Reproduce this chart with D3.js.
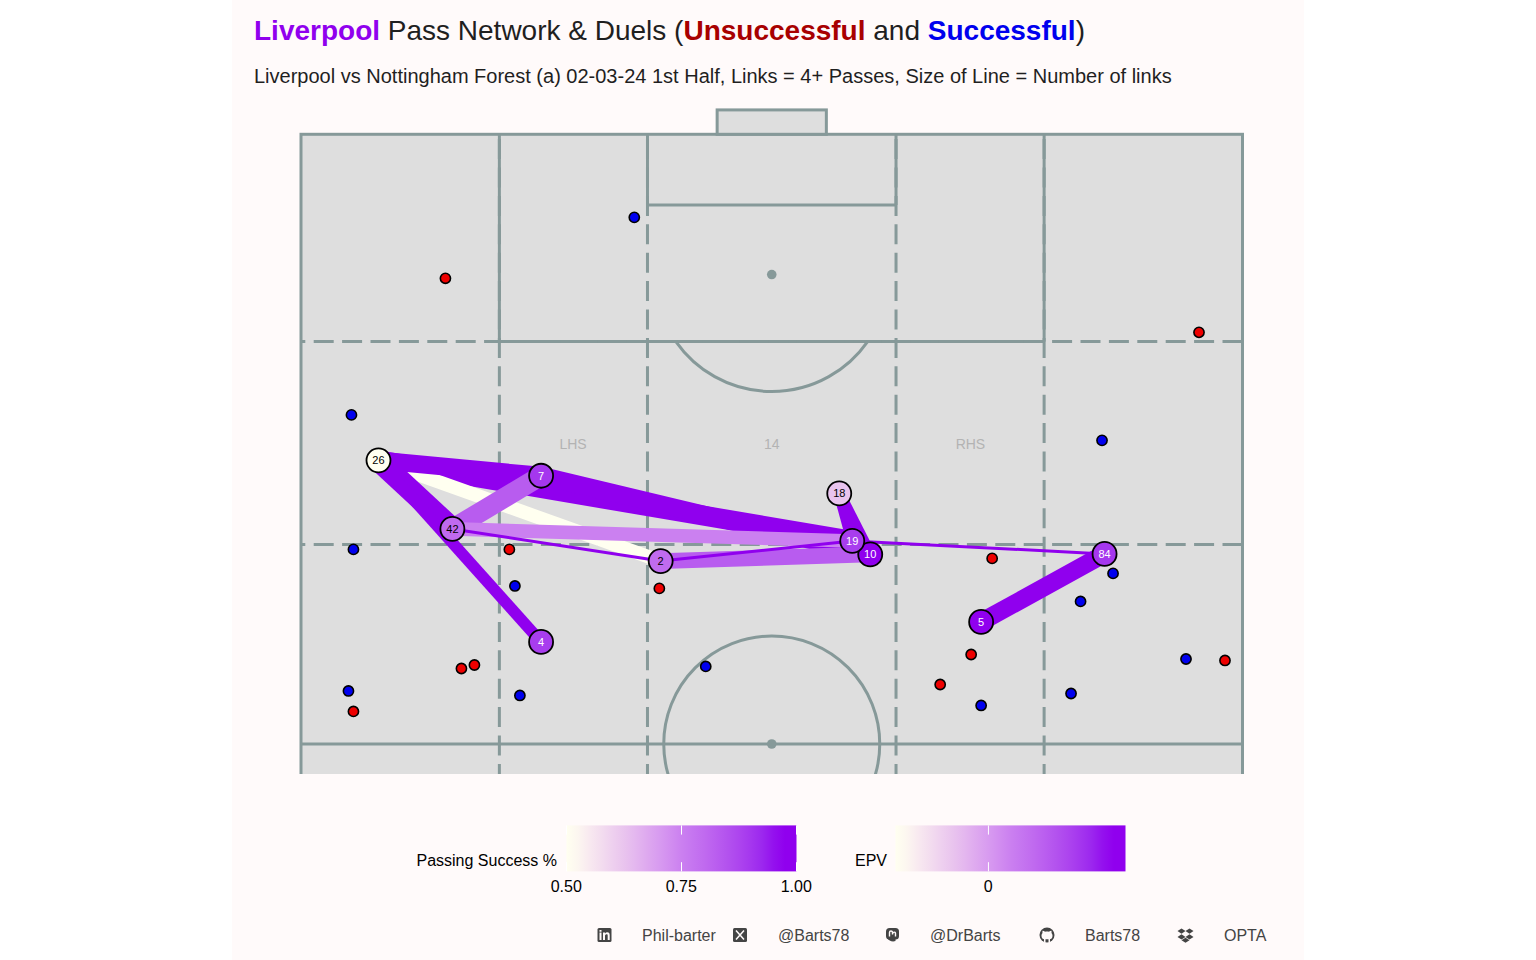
<!DOCTYPE html>
<html>
<head>
<meta charset="utf-8">
<script src="https://cdn.jsdelivr.net/npm/d3@7"></script>
<style>
	html, body { margin: 0; background: #fff; }
	svg { display: block; }
	text { font-family: "Liberation Sans", Arial, sans-serif; }
</style>
</head>
<body>
<svg id="chart" width="1536" height="960"></svg>
<script>
// players: shirt number, average position (x, y on the pitch), EPV
const playerNumbers = [26, 7, 42, 2, 4, 18, 10, 19, 84, 5]
const playerX = [8.23, 25.5, 16.08, 38.2, 25.5, 57.17, 60.46, 58.55, 85.35, 72.24]
const playerY = [73.26, 72.0, 67.64, 65.0, 58.37, 70.55, 65.55, 66.65, 65.59, 60.01]
const playerEpv = [-0.02, 0.0196, 0.0097, 0.0095, 0.0186, -0.0076, 0.026, 0.0186, 0.0196, 0.0295]

// pass links, in drawing order
const linkFrom = [26, 26, 26, 26, 26, 7, 2, 42, 42, 42, 2, 18, 18, 19, 5]
const linkTo = [19, 2, 7, 42, 4, 10, 10, 7, 19, 2, 19, 19, 10, 84, 84]
const linkCount = [12, 9, 11, 13, 8, 11, 10, 12, 9, 4, 4, 8, 8, 4, 11]
const linkSuccess = [1, 0.5, 1, 1, 1, 1, 0.83, 0.83, 0.75, 1, 1, 1, 1, 1, 1]

// duels
const lostX = [15.34, 95.38, 22.13, 38.06, 73.41, 71.18, 67.89, 17.04, 18.42, 5.57, 98.14]
const lostY = [88.19, 83.76, 65.96, 62.76, 65.22, 57.34, 54.88, 56.19, 56.48, 52.67, 56.85]
const wonX = [35.4, 5.36, 85.08, 5.57, 22.72, 86.25, 82.8, 42.99, 94.0, 81.79, 72.24, 23.25, 5.04]
const wonY = [93.19, 76.99, 74.9, 65.96, 62.96, 63.99, 61.69, 56.36, 56.97, 54.14, 53.16, 53.98, 54.35]

const zoneLabels = ["LHS", "14", "RHS"]
const zoneX = [28.9, 50, 71.1]
const successTicks = [0.5, 0.75, 1]
const epvTicks = [0]

const lineColor = "#869999"
const purple = "#9000ee"
const svg = d3.select("#chart")

// scales
const xScale = d3.scaleLinear().domain([0, 100]).range([301, 1242.5])
const yScale = d3.scaleLinear().domain([50, 100]).range([744, 134.3])
const widthScale = d3.scaleLinear().domain([4, 12]).range([3, 20])

// same colour ramp for both legends, t from 0 to 1
const rampT = [0, 0.05, 0.25, 0.5, 0.75, 0.92, 1]
const rampColors = ["#fffff0", "#fcf6f0", "#e9c4ee", "#cb80f0", "#ad45ee", purple, purple]
const ramp = d3.scaleLinear().domain(rampT).range(rampColors).interpolate(d3.interpolateLab)
const successColor = d3.scaleLinear().domain([0.5, 1]).range([0, 1])
const epvColor = d3.scaleLinear().domain([-0.02, 0.0295]).range([0, 1])

// page panel
svg.append("rect").attr("x", 232).attr("y", 0).attr("width", 1072).attr("height", 960).attr("fill", "#fffafa")

// titles
const title = svg.append("text").attr("x", 254).attr("y", 40).attr("font-size", 28).attr("fill", "#1f1f1f")
title.append("tspan").attr("fill", purple).attr("font-weight", "bold").text("Liverpool")
title.append("tspan").text(" Pass Network & Duels (")
title.append("tspan").attr("fill", "#a80000").attr("font-weight", "bold").text("Unsuccessful")
title.append("tspan").text(" and ")
title.append("tspan").attr("fill", "#0000ee").attr("font-weight", "bold").text("Successful")
title.append("tspan").text(")")

svg.append("text").attr("x", 254).attr("y", 83).attr("font-size", 20).attr("fill", "#1f1f1f")
	.text("Liverpool vs Nottingham Forest (a) 02-03-24 1st Half, Links = 4+ Passes, Size of Line = Number of links")

// pitch
svg.append("defs").append("clipPath").attr("id", "pitchClip")
	.append("rect").attr("x", 290).attr("y", 90).attr("width", 970).attr("height", 684)

const pitch = svg.append("g").attr("clip-path", "url(#pitchClip)")
const pitchBottom = 47.5
const dashLength = "20 8.4"

pitch.append("rect")
	.attr("x", xScale(0)).attr("y", yScale(100))
	.attr("width", xScale(100) - xScale(0)).attr("height", yScale(46) - yScale(100))
	.attr("fill", "#dedede").attr("stroke", lineColor).attr("stroke-width", 3)

pitch.append("rect")
	.attr("x", xScale(44.2)).attr("y", yScale(102))
	.attr("width", xScale(55.8) - xScale(44.2)).attr("height", yScale(100) - yScale(102))
	.attr("fill", "#dedede").attr("stroke", lineColor).attr("stroke-width", 3)

function pitchLine(x1, y1, x2, y2, dashOffset) {
	pitch.append("line")
		.attr("x1", xScale(x1)).attr("y1", yScale(y1))
		.attr("x2", xScale(x2)).attr("y2", yScale(y2))
		.attr("stroke", lineColor).attr("stroke-width", 3)
		.attr("stroke-dasharray", dashOffset === undefined ? null : dashLength)
		.attr("stroke-dashoffset", dashOffset === undefined ? null : dashOffset)
}

// penalty box, six yard box, halfway
pitchLine(21.07, 83, 78.93, 83)
pitchLine(36.8, 94.2, 63.2, 94.2)
pitchLine(0, 50, 100, 50)
pitchLine(21.07, 100, 21.07, 83)
pitchLine(78.93, 100, 78.93, 83)
pitchLine(36.8, 100, 36.8, 94.2)
pitchLine(63.2, 100, 63.2, 94.2)

// channel lines, the horizontal ones run from the right hand touchline
pitchLine(100, 83, 0, 83, 0)
pitchLine(100, 66.37, 0, 66.37, 0)
const verticalChannels = [21.07, 36.8, 63.2, 78.93]
verticalChannels.forEach(x => pitchLine(x, 100, x, pitchBottom, 23.6))

// centre circle and penalty arc
pitch.append("circle")
	.attr("cx", xScale(50)).attr("cy", yScale(50)).attr("r", 108)
	.attr("fill", "none").attr("stroke", lineColor).attr("stroke-width", 3)

const arcRadius = 117
const arcAngle = Math.acos((yScale(83) - yScale(88.5)) / arcRadius)
pitch.append("path")
	.attr("transform", "translate(" + xScale(50) + "," + yScale(88.5) + ")")
	.attr("d", d3.arc()({
		innerRadius: arcRadius,
		outerRadius: arcRadius,
		startAngle: Math.PI - arcAngle,
		endAngle: Math.PI + arcAngle
	}))
	.attr("fill", "none").attr("stroke", lineColor).attr("stroke-width", 3)

pitch.selectAll("circle.spot")
	.data([88.5, 50])
	.join("circle")
	.attr("class", "spot")
	.attr("cx", xScale(50)).attr("cy", d => yScale(d)).attr("r", 4.8)
	.attr("fill", lineColor)

// zone labels
svg.selectAll("text.zone")
	.data(zoneLabels)
	.join("text")
	.attr("class", "zone")
	.attr("x", (d, i) => xScale(zoneX[i])).attr("y", 449)
	.attr("text-anchor", "middle").attr("font-size", 14).attr("fill", "#b3b3b3")
	.text(d => d)

// pass links
const playerIndex = n => playerNumbers.indexOf(n)
svg.selectAll("line.link")
	.data(linkFrom)
	.join("line")
	.attr("class", "link")
	.attr("x1", d => xScale(playerX[playerIndex(d)]))
	.attr("y1", d => yScale(playerY[playerIndex(d)]))
	.attr("x2", (d, i) => xScale(playerX[playerIndex(linkTo[i])]))
	.attr("y2", (d, i) => yScale(playerY[playerIndex(linkTo[i])]))
	.attr("stroke-width", (d, i) => widthScale(linkCount[i]))
	.attr("stroke", (d, i) => ramp(successColor(linkSuccess[i])))

// duels
function drawDuels(xs, ys, fill) {
	svg.append("g").selectAll("circle")
		.data(xs)
		.join("circle")
		.attr("cx", d => xScale(d))
		.attr("cy", (d, i) => yScale(ys[i]))
		.attr("r", 5.1)
		.attr("fill", fill)
		.attr("stroke", "#000").attr("stroke-width", 1.6)
}
drawDuels(lostX, lostY, "#ee0000")
drawDuels(wonX, wonY, "#0000ee")

// players
const nodes = svg.append("g").selectAll("g")
	.data(playerNumbers)
	.join("g")
	.attr("transform", (d, i) => "translate(" + xScale(playerX[i]) + "," + yScale(playerY[i]) + ")")

nodes.append("circle")
	.attr("r", 12)
	.attr("fill", (d, i) => ramp(epvColor(playerEpv[i])))
	.attr("stroke", "#000").attr("stroke-width", 1.8)

nodes.append("text")
	.attr("text-anchor", "middle").attr("dy", "0.36em").attr("font-size", 11)
	.attr("fill", (d, i) => epvColor(playerEpv[i]) > 0.7 ? "#fff" : "#000")
	.text(d => d)

// colour bar legends
const barTop = 825.4
const barHeight = 46
const defs = svg.select("defs")
const gradient = defs.append("linearGradient").attr("id", "barGradient")
gradient.selectAll("stop")
	.data(d3.range(0, 1.001, 0.05))
	.join("stop")
	.attr("offset", d => d)
	.attr("stop-color", d => ramp(d))

function colourBar(label, labelRight, scale, ticks, format) {
	const g = svg.append("g")
	const [x0, x1] = scale.range()
	g.append("rect")
		.attr("x", x0).attr("y", barTop).attr("width", x1 - x0).attr("height", barHeight)
		.attr("fill", "url(#barGradient)")

	// white tick marks inside the bar
	ticks.forEach(t => {
		[[barTop, barTop + 9.2], [barTop + barHeight - 9.2, barTop + barHeight]].forEach(y => {
			g.append("line")
				.attr("x1", scale(t)).attr("x2", scale(t))
				.attr("y1", y[0]).attr("y2", y[1])
				.attr("stroke", "#fff").attr("stroke-width", 1)
		})
	})

	const axis = g.append("g")
		.attr("transform", "translate(-0.8," + (barTop + barHeight + 6.6) + ")")
		.call(d3.axisBottom(scale).tickValues(ticks).tickFormat(format).tickSize(0))
	axis.select(".domain").remove()
	axis.selectAll("text")
		.attr("font-family", null)
		.attr("font-size", 16).attr("fill", "#000")

	g.append("text")
		.attr("x", labelRight).attr("y", 866)
		.attr("text-anchor", "end").attr("font-size", 16).attr("fill", "#000")
		.text(label)
}

const successBar = d3.scaleLinear().domain([0.5, 1]).range([566.5, 796.5])
const epvBar = d3.scaleLinear().domain([-0.02, 0.0295]).range([895.5, 1125.5])
colourBar("Passing Success %", 557, successBar, successTicks, d3.format(".2f"))
colourBar("EPV", 887, epvBar, epvTicks, d3.format("d"))

// footer
const footerColor = "#444444"
const footerLabels = ["Phil-barter", "@Barts78", "@DrBarts", "Barts78", "OPTA"]
const footerX = [642, 778, 930, 1085, 1224]
const iconX = [604.5, 740, 892.5, 1047, 1185.5]

svg.selectAll("text.credit")
	.data(footerLabels)
	.join("text")
	.attr("class", "credit")
	.attr("x", (d, i) => footerX[i]).attr("y", 941)
	.attr("font-size", 16).attr("fill", footerColor)
	.text(d => d)

const icons = iconX.map(x => svg.append("g").attr("transform", "translate(" + x + ",935)"))

function squareIcon(g) {
	g.append("rect").attr("x", -7).attr("y", -7).attr("width", 14).attr("height", 14).attr("rx", 1.5).attr("fill", footerColor)
}
// linkedin
squareIcon(icons[0])
icons[0].append("path").attr("fill", "#fffafa")
	.attr("d", "M-5-2.5h2V5h-2zM-5-5h2v1.7h-2zM-1.5-2.5h2v1c.5-.8 1.3-1.2 2.3-1.2 1.7 0 2.4 1 2.4 2.9V5h-2V.6c0-.9-.3-1.4-1.1-1.4s-1.6.6-1.6 1.6V5h-2z")
// x
squareIcon(icons[1])
icons[1].append("path").attr("stroke", "#fffafa").attr("stroke-width", 1.5).attr("fill", "none")
	.attr("d", "M-4-4.5L4 4.5M4-4.5L-4 4.5")
// mastodon
icons[2].append("rect").attr("x", -6.5).attr("y", -7).attr("width", 13).attr("height", 11.5).attr("rx", 3.5).attr("fill", footerColor)
icons[2].append("path").attr("fill", footerColor).attr("d", "M-5 3c1 3 5 4 8 3l0-2z")
icons[2].append("path").attr("stroke", "#fffafa").attr("stroke-width", 1.4).attr("fill", "none")
	.attr("d", "M-3 1.5v-4c0-2 3-2 3 0v2M0-.5c0-3 3-3 3-1v3")
// github
icons[3].append("circle").attr("r", 7.5).attr("fill", footerColor)
icons[3].append("path").attr("fill", "#fffafa")
	.attr("d", "M-3 7.8v-3.5c-2-.5-2.5-2-2.5-3.800 0-1 .3-1.800 1-2.500-.2-.8-.1-1.600.1-2.200 1 0 1.800.5 2.400 1 1.300-.4 2.700-.4 4 0 .6-.5 1.400-1 2.400-1 .2.600.3 1.400.1 2.200.7.7 1 1.500 1 2.500 0 1.800-.5 3.300-2.500 3.800v3.500h-1.500v-3.500h-3v3.500z")
// dropbox
icons[4].append("path").attr("fill", footerColor)
	.attr("d", "M-4-6.500l4 2.600-4 2.600-4-2.600zM4-6.500l4 2.600-4 2.600-4-2.600zM-4-.7l4 2.600-4 2.600-4-2.600zM4-.7l4 2.600-4 2.600-4-2.600zM-4 5.200l4-2.500 4 2.500-4 2.500z")
</script>
</body>
</html>
